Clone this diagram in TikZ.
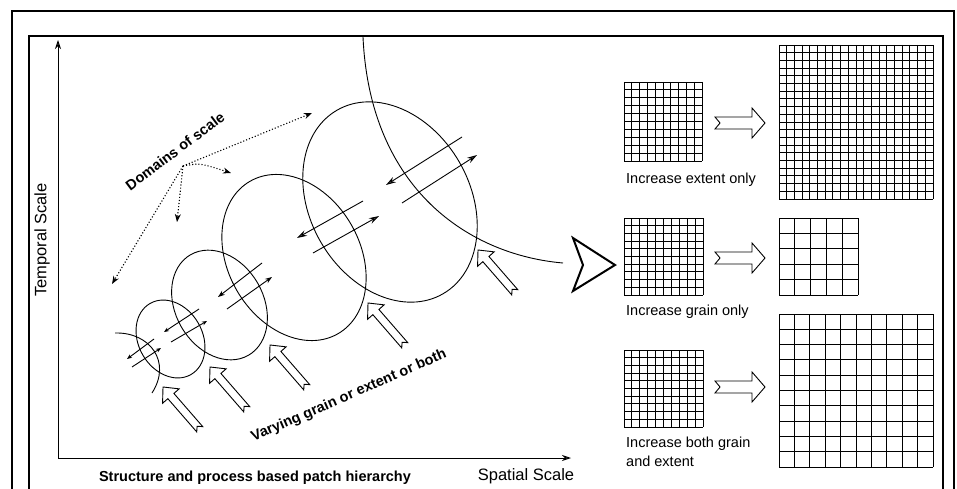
\documentclass[tikz,border=0pt]{standalone}
\usepackage{fontspec}
\setmainfont{Liberation Sans}
\usetikzlibrary{arrows.meta}
\newcommand\mygrid[5]{%
  \foreach \k in {0,...,#5} {%
    \draw[gridline] ({#1+\k*#3/#5},#2) -- ++(0,#4);
    \draw[gridline] (#1,{#2+\k*#4/#5}) -- ++(#3,0);
  }}
\tikzset{
  frame/.style={line width=1.1pt},
  axisline/.style={line width=0.9pt, -{Stealth[length=9pt,width=6pt,fill=black!70]}},
  oval/.style={line width=0.9pt},
  dotarrow/.style={dotted, line width=1.1pt, -{Stealth[length=8pt,width=6pt,fill=black!70]}},
  gridline/.style={line width=0.9pt},
  pairbig/.style={line width=0.9pt, -{Stealth[length=10pt,width=6pt,fill=black!70]}},
  pairmid/.style={line width=0.9pt, -{Stealth[length=7pt,width=5pt,fill=black!70]}},
  pairsmall/.style={line width=0.9pt, -{Stealth[length=5pt,width=4pt]}},
  axislabel/.style={font=\fontsize{16.5}{19}\selectfont, inner sep=0pt},
  boldlabel/.style={font=\fontsize{14.5}{17}\selectfont\bfseries, inner sep=0pt},
  caption/.style={font=\fontsize{14.5}{19}\selectfont, inner sep=0pt, align=left},
  pics/leftblock/.style={code={
    \draw[line width=0.9pt, fill=white, line join=miter]
      (0,0) -- (-12,11) -- (-12,4) -- (-56,4) -- (-52,0) -- (-56,-4)
      -- (-12,-4) -- (-12,-11) -- cycle;}},
  pics/rightblock/.style={code={
    \draw[line width=0.9pt, fill=white, line join=miter]
      (0,0) -- (-13,15) -- (-13,6) -- (-50,6) -- (-45,0) -- (-50,-6)
      -- (-13,-6) -- (-13,-15) -- cycle;}},
}
\begin{document}
\begin{tikzpicture}[x=1pt,y=-1pt]
\useasboundingbox (0,0) rectangle (957,489);
% frames
\draw[frame] (12,489) -- (12,11) -- (954,11) -- (954,489);
\draw[frame] (29,489) -- (29,36) -- (943,36) -- (943,489);
% axes
\coordinate (orig) at (58,458);
\coordinate (ytip) at (58,40);
\coordinate (xtip) at (571,458);
\draw[axisline] (orig) -- (ytip);
\draw[axisline] (orig) -- (xtip);
\node[axislabel, rotate=90] (tlab) at (42,240) {Temporal Scale};
\node[axislabel] (slab) at (526,476) {Spatial Scale};
\node[boldlabel] (blab) at (255,478) {Structure and process based patch hierarchy};
% ellipses
\coordinate (e1) at (170.5,339);
\coordinate (e2) at (219.5,305);
\coordinate (e3) at (294,257.5);
\coordinate (e4) at (390,202);
\draw[oval, rotate around={30:(e1)}] (e1) ellipse [x radius=32pt, y radius=41pt];
\draw[oval, rotate around={30:(e2)}] (e2) ellipse [x radius=44pt, y radius=58pt];
\draw[oval, rotate around={30:(e3)}] (e3) ellipse [x radius=66pt, y radius=88pt];
\draw[oval, rotate around={30:(e4)}] (e4) ellipse [x radius=80pt, y radius=106pt];
\draw[oval] (115,333) .. controls (150,332) and (172,362) .. (152,393);
\draw[oval] (363,37) .. controls (370,190) and (470,255) .. (563,263);
% pairs of arrows
\draw[pairsmall] (154,339) -- (127,359);
\draw[pairsmall] (132,367) -- (161,348);
\draw[pairsmall] (199,309) -- (164,332);
\draw[pairsmall] (171,342) -- (207,321);
\draw[pairmid] (262,263) -- (218,297);
\draw[pairmid] (227,309) -- (272,277);
\draw[pairbig] (363,201) -- (297,238);
\draw[pairbig] (313,253) -- (379,216);
\draw[pairbig] (462,137) -- (386,185);
\draw[pairbig] (402,203) -- (477,155);
% domains of scale
\node[boldlabel, rotate=37] (dlab) at (175,151) {Domains of scale};
\coordinate (dom) at (183,166);
\coordinate (d1) at (312,113);
\coordinate (d2) at (231,173);
\coordinate (d3) at (177,222);
\coordinate (d4) at (112,284);
\draw[dotarrow] (dom) -- (d1);
\draw[dotarrow] (dom) .. controls (200,163) .. (d2);
\draw[dotarrow] (dom) -- (d3);
\draw[dotarrow] (dom) -- (d4);
% block arrows
\pic[rotate=131] at (163,387) {leftblock};
\pic[rotate=131] at (210,367) {leftblock};
\pic[rotate=131] at (270,345) {leftblock};
\pic[rotate=131] at (368,303) {leftblock};
\pic[rotate=131] at (478,250) {leftblock};
\node[boldlabel, rotate=23.5] (vlab) at (349,396) {Varying grain or extent or both};
% chevron
\draw[line width=2pt, line join=miter] (573,238) -- (615,265) -- (573,291) -- (583,265) -- cycle;
% grids
\mygrid{624}{82}{78}{79}{10}
\mygrid{779}{45}{154}{154}{20}
\mygrid{624}{218}{79}{77}{10}
\mygrid{779}{218}{79}{77}{5}
\mygrid{624}{350}{79}{77}{10}
\mygrid{779}{314}{154}{153}{10}
\pic at (765,123) {rightblock};
\pic at (765,258) {rightblock};
\pic at (765,387) {rightblock};
\node[caption, anchor=west] (c1) at (626,180) {Increase extent only};
\node[caption, anchor=west] (c2) at (626,312) {Increase grain only};
\node[caption, anchor=west] (c3) at (626,452) {Increase both grain\\and extent};
\end{tikzpicture}
\end{document}
